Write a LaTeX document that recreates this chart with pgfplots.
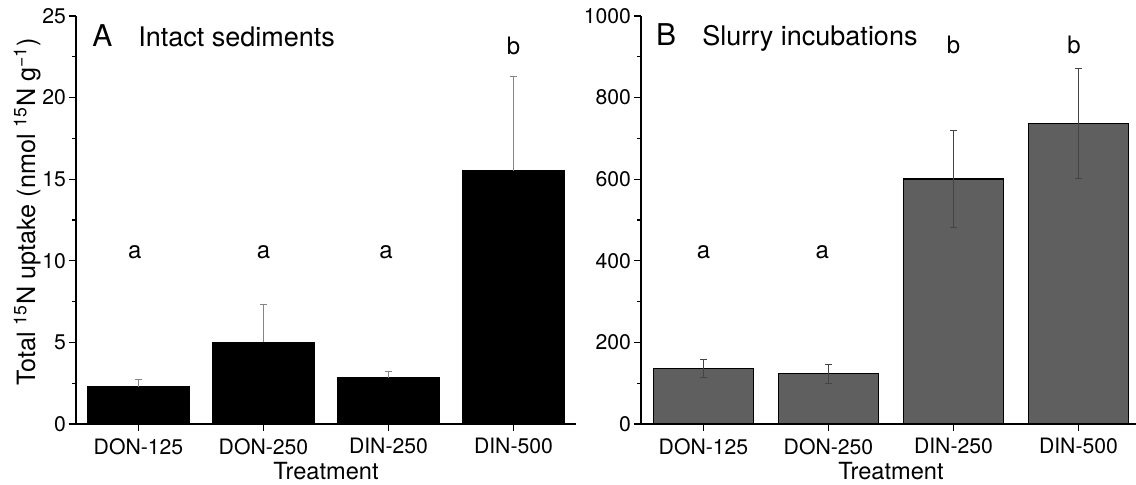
\documentclass[border=0pt]{standalone}
\usepackage{fontspec}
\setmainfont{TeX Gyre Heros}
\usepackage{pgfplots}
\pgfplotsset{compat=1.18}
\definecolor{barB}{HTML}{5F5F5F}
\definecolor{errA}{HTML}{858585}
\definecolor{errB}{HTML}{444444}
\pgfplotsset{
  mystyle/.style={
    scale only axis, width=250pt, height=204pt,
    xmin=-0.5, xmax=3.5,
    axis x line*=bottom, axis y line*=left,
    xtick={0,1,2,3}, xticklabels={DON-125,DON-250,DIN-250,DIN-500},
    tick align=outside, major tick length=3.6pt, minor tick length=1.8pt,
    minor y tick num=1,
    tick label style={font=\fontsize{10.6}{12}\selectfont},
    yticklabel style={inner sep=1.2pt},
    /pgf/number format/assume math mode=true,
    /pgf/number format/set thousands separator={},
    xlabel={Treatment},
    xlabel style={font=\fontsize{11.8}{14}\selectfont, at={(axis description cs:0.5,0)}, anchor=base, yshift=-28pt},
    axis line style={line width=0.6pt},
    tick style={line width=0.6pt, black},
    clip=false,
  }
}
\begin{document}
\begin{tikzpicture}
\begin{axis}[mystyle, at={(38pt,30.5pt)},
  ymin=0, ymax=25, ytick={0,5,10,15,20,25},
  ylabel={Total \textsuperscript{15}N uptake (nmol \textsuperscript{15}N g\textsuperscript{−1})},
  ylabel style={font=\fontsize{12.6}{14}\selectfont, at={(axis description cs:-0.082,0.52)}, anchor=base},
]
\addplot[ybar, bar width=0.81, fill=black, draw=black] coordinates {(0,2.29) (1,5.0) (2,2.84) (3,15.52)};
\addplot[draw=none, mark=none, forget plot,
  error bars/.cd, y dir=plus, y explicit,
  error bar style={draw=errA, line width=0.5pt},
  error mark options={draw=errA, rotate=90, mark size=1.8pt, line width=0.5pt}]
  coordinates {(0,2.29) +- (0,0.41) (1,5.0) +- (0,2.33) (2,2.84) +- (0,0.37) (3,15.52) +- (0,5.78)};
\node[anchor=base, font=\fontsize{12}{14}\selectfont] at (axis cs:-0.03,10.15) {a};
\node[anchor=base, font=\fontsize{12}{14}\selectfont] at (axis cs:1,10.15) {a};
\node[anchor=base, font=\fontsize{12}{14}\selectfont] at (axis cs:1.98,10.15) {a};
\node[anchor=base, font=\fontsize{12}{14}\selectfont] at (axis cs:3,22.67) {b};
\node[anchor=base west, inner sep=0pt, font=\fontsize{15}{17}\selectfont] at (axis cs:-0.372,23.13) {A};
\node[anchor=base west, inner sep=0pt, font=\fontsize{13.5}{15}\selectfont] at (axis cs:-0.004,23.13) {Intact sediments};
\end{axis}
\begin{axis}[mystyle, at={(320.5pt,30.5pt)},
  ymin=0, ymax=1000, ytick={0,200,400,600,800,1000},
]
\addplot[ybar, bar width=0.8, fill=barB, draw=black, line width=0.6pt] coordinates {(0,136.5) (1,123) (2,600.5) (3,736)};
\addplot[draw=none, mark=none, forget plot,
  error bars/.cd, y dir=both, y explicit,
  error bar style={draw=errB, line width=0.5pt},
  error mark options={draw=errB, rotate=90, mark size=1.7pt, line width=0.5pt}]
  coordinates {(0,136.5) +- (0,22.5) (1,123) +- (0,23) (2,600.5) +- (0,119.5) (3,736) +- (0,135.5)};
\node[anchor=base, font=\fontsize{12}{14}\selectfont] at (axis cs:0,406) {a};
\node[anchor=base, font=\fontsize{12}{14}\selectfont] at (axis cs:0.95,406) {a};
\node[anchor=base, font=\fontsize{12}{14}\selectfont] at (axis cs:2,907) {b};
\node[anchor=base, font=\fontsize{12}{14}\selectfont] at (axis cs:2.965,907) {b};
\node[anchor=base west, inner sep=0pt, font=\fontsize{15}{17}\selectfont] at (axis cs:-0.383,927) {B};
\node[anchor=base west, inner sep=0pt, font=\fontsize{13.5}{15}\selectfont] at (axis cs:-0.013,927) {Slurry incubations};
\end{axis}
\pgfresetboundingbox
\path[use as bounding box] (0,0) rectangle (568pt,242.5pt);
\end{tikzpicture}
\end{document}
